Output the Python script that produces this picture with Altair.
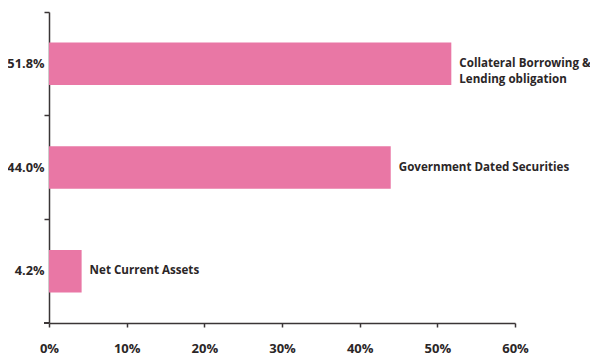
import altair as alt
import pandas as pd

categories = ["51.8%", "44.0%", "4.2%"]
values = [51.8, 44.0, 4.2]
names = [["Collateral Borrowing &", "Lending obligation"],
         ["Government Dated Securities"],
         ["Net Current Assets"]]
x_ticks = [0, 10, 20, 30, 40, 50, 60]

df = pd.DataFrame({"cat": categories, "val": values, "name": names})

FONT = "Open Sans"
AXIS_COLOR = "#3a3536"
TEXT_COLOR = "#2b2627"
BAR_COLOR = "#E977A5"

W, H = 466, 311

y_enc = alt.Y("cat:N", sort=categories,
              scale=alt.Scale(paddingInner=0, paddingOuter=0),
              axis=alt.Axis(title=None, bandPosition=0, tickSize=5, labelPadding=0,
                            labelFontSize=12.8))
x_enc = alt.X("val:Q", scale=alt.Scale(domain=[0, 60], nice=False),
              axis=alt.Axis(title=None, values=x_ticks, tickSize=4, labelPadding=15,
                            labelFlush=False,
                            labelExpr="datum.value + '%'", grid=False))

base = alt.Chart(df)
bars = base.mark_bar(color=BAR_COLOR, height={"band": 0.41}).encode(x=x_enc, y=y_enc)
labels = base.mark_text(align="left", baseline="middle", dx=8, font=FONT, fontSize=11.6,
                        fontWeight="bold", color=TEXT_COLOR, lineHeight=16).encode(
    x="val:Q", y=alt.Y("cat:N", sort=categories), text="name")
bottom_tick = alt.Chart(df).mark_rule(color=AXIS_COLOR, strokeWidth=1.5).encode(
    x=alt.value(-5), x2=alt.value(0), y=alt.value(H))

chart = alt.layer(bars, labels, bottom_tick).properties(
    width=W, height=H,
    autosize=alt.AutoSizeParams(type="none"),
    padding={"left": 41, "top": 4, "right": 75, "bottom": 35},
    background="white",
).configure_view(stroke=None).configure_axis(
    labelFont=FONT, labelFontSize=13, labelFontWeight="bold",
    labelColor=TEXT_COLOR, domainColor=AXIS_COLOR, tickColor=AXIS_COLOR,
    domainWidth=1.5, tickWidth=1.5, grid=False)

chart.save("out.html", embed_options={"renderer": "svg", "actions": False})
